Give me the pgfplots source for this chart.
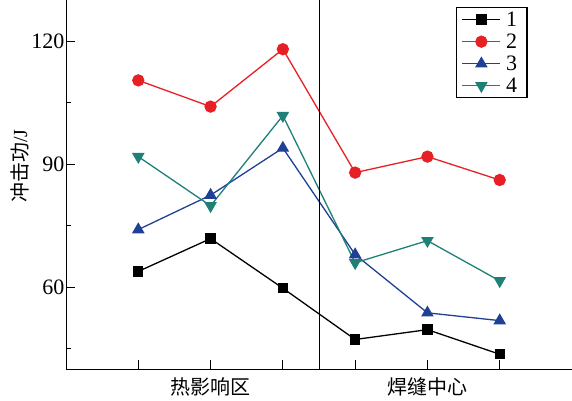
\documentclass[border=0pt]{standalone}
\usepackage{fontspec}
\setmainfont{Liberation Serif}
\newfontfamily\cjk{Noto Sans CJK SC}
\newfontfamily\tnr{Liberation Serif}
\usepackage{pgfplots}
\pgfplotsset{compat=1.18}
\definecolor{cred}{RGB}{230,32,36}
\definecolor{cblue}{RGB}{32,64,150}
\definecolor{cteal}{RGB}{30,128,118}
\begin{document}
\begin{tikzpicture}
\begin{axis}[
  at={(66pt,31pt)}, anchor=south west,
  scale only axis, width=506pt, height=369pt,
  xmin=0, xmax=7, ymin=40, ymax=130,
  axis lines*=left,
  axis line style={line width=0.9pt},
  tick align=inside,
  major tick length=9pt, minor tick length=5pt,
  tick style={black, line width=0.8pt},
  xtick={1,2,3,4,5,6},
  xticklabels={,热影响区,,,焊缝中心,},
  xticklabel style={font=\cjk\fontsize{20}{22}\selectfont, yshift=-5pt},
  ytick={60,90,120},
  yticklabels={{\tnr 60},{\tnr 90},{\tnr 120}},
  minor ytick={45,75,105},
  yticklabel style={font=\tnr\fontsize{22}{24}\selectfont, xshift=2pt},
  ylabel={\cjk 冲击功\tnr/J},
  ylabel style={font=\fontsize{20}{22}\selectfont, at={(axis description cs:-0.092,0.55)}, anchor=center},
  every axis plot/.append style={line width=1.3pt},
  legend style={at={(0.771,0.981)}, anchor=north west, draw=black, line width=1.2pt,
    font=\tnr\fontsize{22}{23}\selectfont, row sep=2pt, inner xsep=5pt, inner ysep=2pt,
    nodes={inner xsep=5pt}},
  legend cell align=left,
  legend image code/.code={\draw[mark repeat=2,mark phase=2,#1] plot coordinates {(0pt,0pt)(19pt,0pt)(38pt,0pt)};},
]
\addplot[black, mark=square*, mark size=4.5pt, mark options={solid}] coordinates {(1,63.8)(2,71.8)(3,59.7)(4,47.2)(5,49.6)(6,43.6)};
\addlegendentry{1}
\addplot[cred, mark=*, mark size=5.5pt] coordinates {(1,110.4)(2,104.0)(3,118.0)(4,87.9)(5,91.8)(6,86.1)};
\addlegendentry{2}
\addplot[cblue, mark=triangle*, mark size=6pt] coordinates {(1,74.0)(2,82.4)(3,93.9)(4,67.9)(5,53.7)(6,51.8)};
\addlegendentry{3}
\addplot[cteal, mark=triangle*, mark size=6pt, mark options={rotate=180}] coordinates {(1,91.8)(2,79.8)(3,101.8)(4,65.9)(5,71.3)(6,61.5)};
\addlegendentry{4}
\addplot[black, line width=1pt, forget plot] coordinates {(3.5,40)(3.5,130)};
\end{axis}
\pgfresetboundingbox
\path[use as bounding box] (0,0) rectangle (572pt,400pt);
\end{tikzpicture}
\end{document}
